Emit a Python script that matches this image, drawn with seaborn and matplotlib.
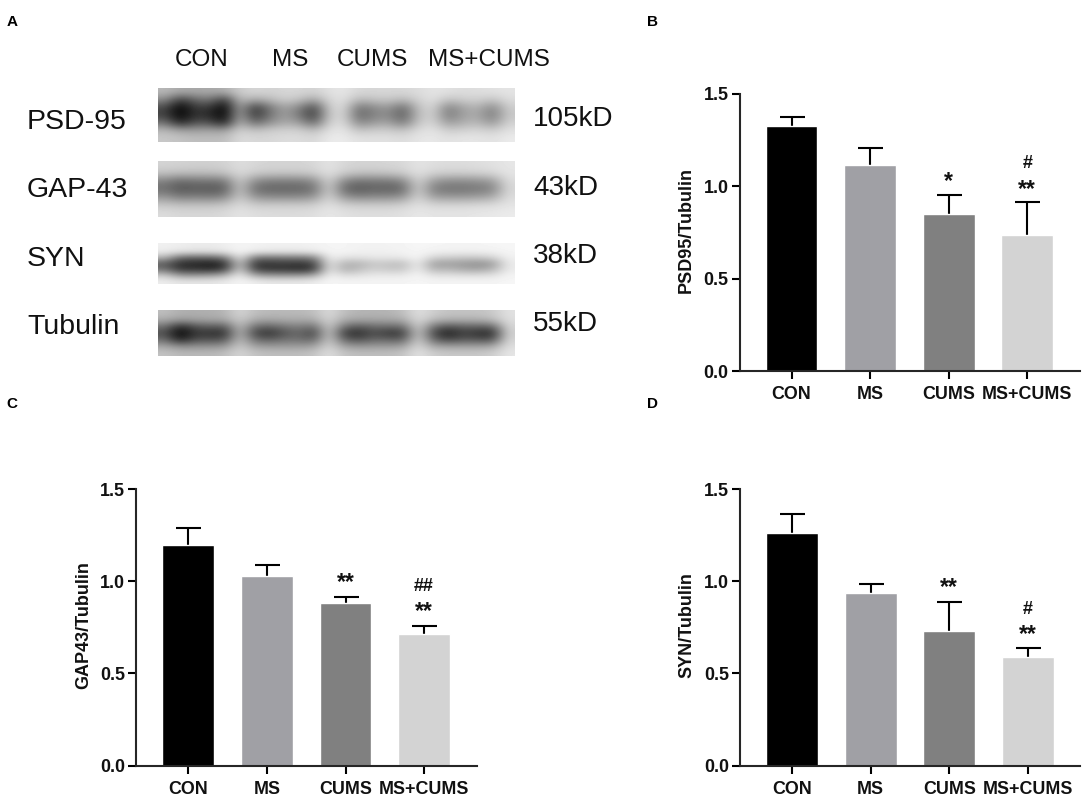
import numpy as np
import pandas as pd
import matplotlib
matplotlib.use("Agg")
import matplotlib.pyplot as plt
import seaborn as sns

groups = ["CON", "MS", "CUMS", "MS+CUMS"]
bar_colors = ["#000000", "#A0A0A5", "#808080", "#D3D3D3"]

psd95_mean = [1.329, 1.114, 0.849, 0.737]
psd95_top = [1.375, 1.207, 0.951, 0.915]
gap43_mean = [1.199, 1.026, 0.881, 0.715]
gap43_top = [1.289, 1.09, 0.915, 0.759]
syn_mean = [1.263, 0.937, 0.728, 0.588]
syn_top = [1.365, 0.985, 0.889, 0.636]

# significance marks: group index, text, height
psd95_marks = [(2, "*", 1.04), (3, "**", 1.0), (3, "#", 1.126)]
gap43_marks = [(2, "**", 1.01), (3, "**", 0.853), (3, "##", 0.976)]
syn_marks = [(2, "**", 0.98), (3, "**", 0.727), (3, "#", 0.853)]

# blot grey levels, rows top to bottom
blot_psd95 = [
    [185,170,170,170,175,205,215,210,215,215,210,225,230,215,215,215,215,220,228,225,220,222,225,228],
    [140,60,105,120,55,190,170,185,205,195,165,215,225,185,195,200,185,210,225,195,205,210,195,220],
    [75,0,60,55,0,170,55,120,165,135,70,205,220,115,140,155,105,195,215,130,165,180,135,205],
    [65,0,50,40,0,170,50,115,160,120,55,200,215,100,130,140,90,190,210,120,160,170,120,200],
    [115,35,85,80,30,185,105,145,170,160,100,210,220,135,155,165,120,200,215,155,175,185,150,210],
    [185,165,160,165,160,210,195,205,210,210,190,225,230,195,205,205,195,220,228,205,210,215,205,225],
    [200,195,190,190,190,220,215,215,220,220,215,235,235,225,225,225,220,230,232,225,230,230,225,235],
]
blot_gap43 = [
    [212,210,208,208,210,222,215,212,212,212,215,228,215,212,212,214,216,228,222,220,220,222,225,230],
    [195,190,190,190,195,218,205,200,200,200,205,225,205,195,195,198,205,225,210,208,208,210,215,228],
    [130,105,115,115,120,205,140,125,125,125,140,215,135,115,120,120,135,215,155,140,140,145,155,220],
    [110,85,92,88,92,200,110,100,100,100,112,210,105,88,100,95,105,210,125,115,115,120,130,215],
    [150,125,130,125,135,205,150,140,140,140,150,215,150,135,140,140,150,215,160,155,155,160,170,220],
    [200,195,195,195,200,220,205,205,205,205,208,225,210,205,205,205,210,225,215,215,215,218,220,228],
    [220,215,215,215,218,228,222,220,220,220,222,232,225,222,222,222,225,232,228,228,228,230,232,235],
]
blot_syn = [
    [240,238,235,235,238,245,242,240,240,240,242,245,245,242,242,242,244,246,245,244,244,244,245,246],
    [235,225,222,222,228,244,232,228,228,228,232,244,244,240,240,240,242,246,240,238,238,238,240,245],
    [180,105,100,100,120,235,120,115,120,120,130,240,225,225,230,230,232,245,210,205,200,200,210,240],
    [95,45,40,30,45,210,55,55,60,55,65,232,180,180,200,195,190,240,160,160,155,145,155,235],
    [115,55,55,45,65,220,70,55,55,45,60,235,175,190,210,200,200,240,180,185,170,165,180,235],
    [200,150,150,155,175,238,165,150,150,150,165,242,220,225,232,232,232,245,225,225,222,222,225,243],
    [238,230,230,230,235,245,238,232,232,232,236,246,244,244,244,244,244,246,244,244,244,244,244,246],
]
blot_tubulin = [
    [190,175,175,175,180,215,190,185,185,185,190,220,190,180,180,180,190,225,205,195,195,195,200,225],
    [170,155,160,165,165,205,170,165,170,170,170,215,170,165,165,165,170,220,185,175,175,175,185,222],
    [115,40,85,95,90,195,110,100,120,130,110,210,115,90,110,110,110,215,115,85,100,100,100,215],
    [80,0,55,50,45,190,70,50,85,105,65,210,60,45,80,55,60,210,75,30,65,50,40,210],
    [110,30,80,80,85,195,110,95,115,115,100,210,100,80,105,100,95,215,105,70,90,85,80,215],
    [165,140,145,145,150,205,160,155,155,155,160,215,160,150,155,155,160,220,165,160,160,160,165,222],
    [195,185,185,185,190,215,195,190,190,190,195,225,195,190,190,190,195,228,205,200,200,200,205,230],
]
blot_names = ["PSD-95", "GAP-43", "SYN", "Tubulin"]
blot_sizes = ["105kD", "43kD", "38kD", "55kD"]

W, H = 1084, 797

sns.set_theme(style="ticks")
plt.rcParams["font.family"] = ["Liberation Sans", "DejaVu Sans"]

fig = plt.figure(figsize=(W / 100, H / 100), dpi=100, facecolor="white")

# overlay in pixel coordinates for the blot panel and the panel letters
page = fig.add_axes([0, 0, 1, 1])
page.set_axis_off()

blot_boxes = [(88, 142), (161, 217), (243, 284), (310, 356)]
name_y = [122, 190, 259, 327]
size_y = [119, 188, 256, 324]
for grid, box in zip([blot_psd95, blot_gap43, blot_syn, blot_tubulin], blot_boxes):
    page.imshow(np.array(grid), cmap="gray", vmin=0, vmax=255, aspect="auto",
                interpolation="bicubic", extent=(157.5, 514, box[1], box[0]))
page.set_xlim(0, W)
page.set_ylim(H, 0)

for name, y in zip(blot_names, name_y):
    page.text(27, y, name, fontsize=20.5, ha="left", va="center", color="#111111")
for size, y in zip(blot_sizes, size_y):
    page.text(533, y, size, fontsize=20, ha="left", va="center", color="#111111")
for g, x in zip(groups, [202, 290, 372, 489]):
    page.text(x, 60, g, fontsize=17.5, ha="center", va="center", color="#111111")
for letter, x, y in [("A", 12, 22), ("B", 652, 22), ("C", 12, 404), ("D", 652, 404)]:
    page.text(x, y, letter, fontsize=11, fontweight="bold", ha="center", va="center", color="black")


def bar_panel(left, right, y0, y15, first_bar, means, tops, marks, ylabel, label_right):
    ax = fig.add_axes([left / W, 1 - y0 / H, (right - left) / W, (y0 - y15) / H])
    ax.patch.set_alpha(0)
    df = pd.DataFrame({"group": groups, "value": means})
    sns.barplot(data=df, x="group", y="value", hue="group", palette=bar_colors, ax=ax,
                saturation=1, width=0.66, legend=False, errorbar=None, zorder=2)
    xs = np.arange(len(groups))
    upper = np.array(tops) - np.array(means)
    # lower half goes behind the bars, so only the upper whisker shows
    ax.errorbar(xs, means, yerr=[upper * 0 + 0.05, upper], fmt="none", ecolor="black",
                elinewidth=1.5, capsize=9, capthick=1.5, zorder=1)
    spacing = 78.6
    ax.set_xlim((left - first_bar) / spacing, (right - first_bar) / spacing)
    ax.set_ylim(0, 1.5)
    ax.set_yticks([0, 0.5, 1.0, 1.5])
    ax.set_yticklabels(["0.0", "0.5", "1.0", "1.5"])
    ax.set_xlabel("")
    ax.set_ylabel(ylabel, fontsize=13, fontweight="bold", color="#111111")
    ax.yaxis.set_label_coords((label_right - left) / (right - left), 0.51)
    ax.tick_params(axis="both", length=6, width=1.5, color="black", labelsize=12.9, labelcolor="#111111")
    ax.tick_params(axis="x", pad=5)
    ax.tick_params(axis="y", pad=2)
    for lab in ax.get_xticklabels() + ax.get_yticklabels():
        lab.set_fontweight("bold")
    sns.despine(ax=ax)
    ax.spines["left"].set_linewidth(1.5)
    ax.spines["bottom"].set_linewidth(1.5)
    for idx, text, y in marks:
        # Arial asterisks sit high in the line box, so drop them a little
        if "*" in text:
            ax.text(idx, y - 0.015, text, fontsize=16.5, fontweight="bold", ha="center", va="center", color="#111111")
        else:
            ax.text(idx, y - 0.005, text, fontsize=13, fontweight="bold", ha="center", va="center", color="#111111")
    return ax


bar_panel(739.5, 1080, 371, 94, 791.5, psd95_mean, psd95_top, psd95_marks, "PSD95/Tubulin", 695)
bar_panel(136.3, 477, 765.7, 489, 188.3, gap43_mean, gap43_top, gap43_marks, "GAP43/Tubulin", 92)
bar_panel(740, 1080, 765.7, 489, 792, syn_mean, syn_top, syn_marks, "SYN/Tubulin", 695)

fig.savefig("out.png", dpi=100)
